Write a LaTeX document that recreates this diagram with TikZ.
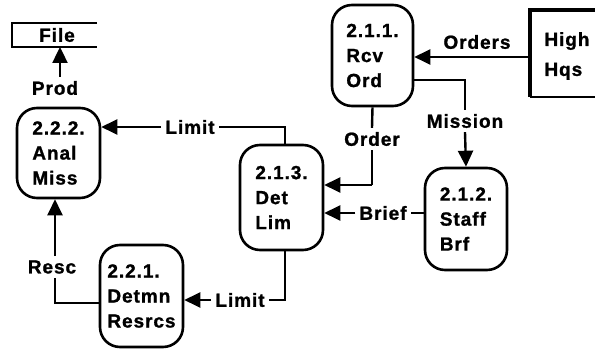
\documentclass[tikz,border=0pt]{standalone}
\usepackage{fontspec}
\setmainfont{Liberation Sans}[LetterSpace=5, BoldFeatures={FakeBold=1.2}]
\usetikzlibrary{arrows.meta}
\begin{document}
\begin{tikzpicture}[x=1pt,y=-1pt,
  proc/.style={draw, line width=2.6pt, rounded corners=20pt, minimum width=83pt,
    align=left, inner sep=2pt, font=\fontsize{19}{25}\selectfont\bfseries},
  lbl/.style={font=\fontsize{19}{23}\selectfont\bfseries, inner sep=4pt},
  flow/.style={line width=2.4pt},
  arr/.style={flow, -{Triangle[length=16pt,width=15pt]}}
]
\useasboundingbox (0,0) rectangle (595,352);

% processes
\node[proc, minimum height=90pt] (b222) at (58.5,153) {2.2.2.\\Anal\\Miss};
\node[proc, minimum height=101pt, minimum width=81pt] (b211) at (372.5,55.5) {2.1.1.\\Rcv\\Ord};
\node[proc, minimum height=105pt] (b213) at (281.5,197.5) {2.1.3.\\Det\\Lim};
\node[proc, minimum height=102pt, minimum width=82pt] (b212) at (466,219) {2.1.2.\\Staff\\Brf};
\node[proc, minimum height=102pt] (b221) at (141.5,296) {2.2.1.\\Detmn\\Resrcs};

% external entity High Hqs
\draw[line width=3.5pt] (595,10) -- (530,10) -- (530,97);
\draw[line width=2.2pt] (530,97) -- (595,97);
\node[lbl, align=left, font=\fontsize{19}{30}\selectfont\bfseries] (hq) at (567,56) {High\\Hqs};
\coordinate (hqw) at (530,57);

% file store
\draw[line width=2.4pt] (97,23) -- (12,23) -- (12,47) -- (97,47);
\node[lbl] (file) at (57,35) {File};
\coordinate (fileb) at (60,47);

% labels
\node[lbl] (lorders) at (477,42) {Orders};
\node[lbl] (lmission) at (465,121) {Mission};
\node[lbl] (lorder) at (372,139) {Order};
\node[lbl] (lbrief) at (383,213) {Brief};
\node[lbl] (llimit1) at (190,127) {Limit};
\node[lbl] (llimit2) at (240,300) {Limit};
\node[lbl] (lresc) at (52,267) {Resc};
\node[lbl] (lprod) at (55,88) {Prod};

% connectors
\draw[arr] (hqw) -- (b211.east |- hqw);
\draw[flow] (b211.east |- 0,80) -| (lmission.north);
\draw[arr] (lmission.south) -- (b212.north);
\draw[flow] (b211.south) -- (lorder.north);
\draw[flow] (lorder.south) -- (372,185);
\draw[arr] (372,185) -- (b213.east |- 0,185);
\draw[flow] (b212.west |- lbrief) -- (lbrief.east);
\draw[arr] (lbrief.west) -- (b213.east |- lbrief);
\draw[flow] (b213.north -| 285,0) |- (llimit1.east);
\draw[arr] (llimit1.west) -- (b222.east |- llimit1);
\draw[flow] (b213.south -| 285,0) |- (llimit2.east);
\draw[arr] (llimit2.west) -- (b221.east |- llimit2);
\draw[flow] (b221.west |- 0,303) -| (lresc.south -| 55,0);
\draw[arr] (lresc.north -| 55,0) -- (b222.south -| 55,0);
\draw[arr] (lprod.north -| 60,0) -- (fileb);
\end{tikzpicture}
\end{document}
